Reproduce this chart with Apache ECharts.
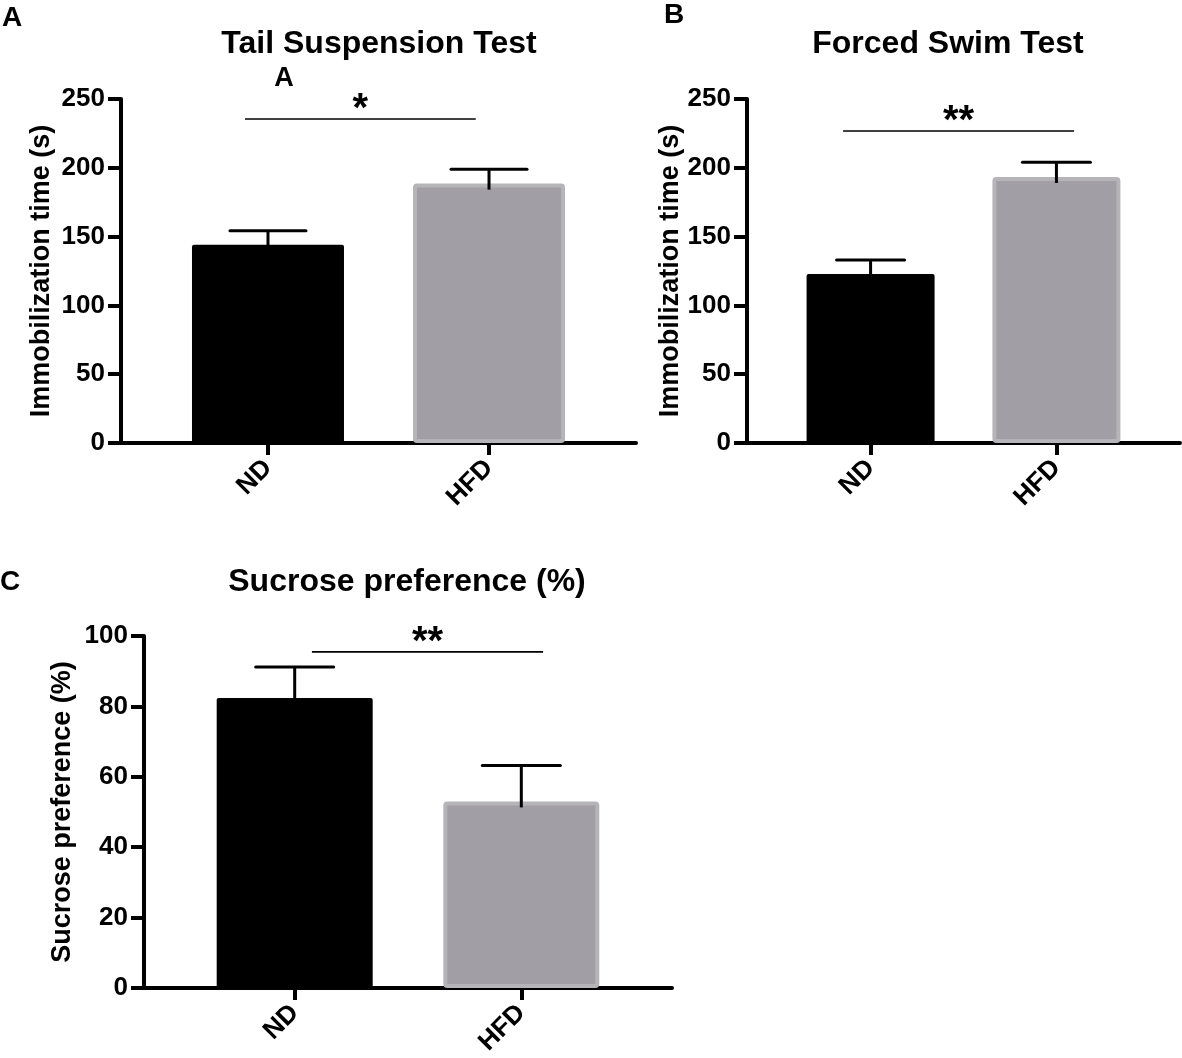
<!DOCTYPE html>
<html>
<head>
<meta charset="utf-8">
<script src="https://cdn.jsdelivr.net/npm/echarts@6/dist/echarts.min.js"></script>
<style>
  html, body { margin: 0; padding: 0; background: #fff; }
  #main { width: 1182px; height: 1058px; }
</style>
</head>
<body>
<div id="main"></div>
<script>
var categories = ['ND', 'HFD'];

// A - tail suspension, immobilization time (s)
var tailMean = [144, 188.5];
var tailSem = [10.3, 10.5];
var tailSig = [0.896, 1.94, 235.5, '*'];

// B - forced swim, immobilization time (s)
var swimMean = [122.8, 193.3];
var swimSem = [10.2, 10.7];
var swimSig = [0.852, 2.095, 226.7, '**'];

// C - sucrose preference (%)
var sucroseMean = [82.4, 53.0];
var sucroseSem = [8.8, 10.2];
var sucroseSig = [1.076, 2.096, 95.5, '**'];

var FONT = '"Liberation Sans", Arial, sans-serif';
var NDCOLOR = '#000000';
var HFDCOLOR = '#a19fa5';
var HFDBORDER = '#b5b4b8';

function xAxisOf(idx) {
    return {
        type: 'value', gridIndex: idx, min: 0.335, max: 2.665,
        splitLine: { show: false },
        axisLine: { onZero: false, lineStyle: { color: '#000', width: 4 } },
        axisTick: { show: true, customValues: [1, 2], length: 12, lineStyle: { color: '#000', width: 4 } },
        axisLabel: {
            customValues: [1, 2], rotate: 45, margin: 21,
            fontSize: 26, fontWeight: 'bold', color: '#000', fontFamily: FONT,
            formatter: function (v) { return categories[Math.round(v) - 1]; }
        }
    };
}

function yAxisOf(idx, max, interval, name, gap) {
    return {
        type: 'value', gridIndex: idx, min: 0, max: max, interval: interval,
        name: name, nameLocation: 'middle', nameGap: gap,
        nameTextStyle: { fontSize: 27, fontWeight: 'bold', color: '#000', fontFamily: FONT },
        splitLine: { show: false },
        axisLine: { show: true, onZero: false, lineStyle: { color: '#000', width: 4 } },
        axisTick: { show: true, length: 13, lineStyle: { color: '#000', width: 4 } },
        axisLabel: { margin: 16, fontSize: 26, fontWeight: 'bold', color: '#000', fontFamily: FONT }
    };
}

function barSeries(idx, means, width) {
    return {
        type: 'bar', xAxisIndex: idx, yAxisIndex: idx, barWidth: width, z: 2,
        data: means.map(function (m, i) {
            var style = i === 0
                ? { color: NDCOLOR, borderRadius: 2 }
                : { color: HFDCOLOR, borderColor: HFDBORDER, borderWidth: 4, borderRadius: 2 };
            return { value: [i + 1, m], itemStyle: style };
        })
    };
}

function errorSeries(idx, means, sems, capHalf) {
    return {
        type: 'custom', xAxisIndex: idx, yAxisIndex: idx, z: 3,
        data: means.map(function (m, i) { return [i + 1, m, sems[i]]; }),
        renderItem: function (params, api) {
            var x = api.value(0), m = api.value(1), e = api.value(2);
            var base = api.coord([x, m]);
            var top = api.coord([x, m + e]);
            return {
                type: 'group', children: [
                    { type: 'line', shape: { x1: base[0], y1: base[1] + 6, x2: top[0], y2: top[1] },
                      style: { stroke: '#000', lineWidth: 3 } },
                    { type: 'line', shape: { x1: top[0] - capHalf, y1: top[1], x2: top[0] + capHalf, y2: top[1] },
                      style: { stroke: '#000', lineWidth: 3, lineCap: 'round' } }
                ]
            };
        }
    };
}

function sigSeries(idx, sig) {
    return {
        type: 'custom', xAxisIndex: idx, yAxisIndex: idx, z: 3,
        data: [sig],
        renderItem: function (params, api) {
            var a = api.coord([api.value(0), api.value(2)]);
            var b = api.coord([api.value(1), api.value(2)]);
            return {
                type: 'group', children: [
                    { type: 'line', shape: { x1: a[0], y1: a[1], x2: b[0], y2: b[1] },
                      style: { stroke: '#000', lineWidth: 1.6 } },
                    { type: 'text', x: (a[0] + b[0]) / 2, y: a[1] - 9,
                      style: { text: sig[3], fontSize: 40, fontWeight: 'bold', fontFamily: FONT,
                               fill: '#000', align: 'center', verticalAlign: 'middle' } }
                ]
            };
        }
    };
}

function label(text, x, y, size) {
    return {
        type: 'text', x: x, y: y,
        style: { text: text, fontSize: size, fontWeight: 'bold', fontFamily: FONT,
                 fill: '#000', align: 'center', verticalAlign: 'middle' }
    };
}

var myChart = echarts.init(document.getElementById('main'));

option = {
    backgroundColor: '#fff',
    animation: false,
    grid: [
        { left: 121, top: 99, width: 515, height: 344 },
        { left: 747, top: 99, width: 433, height: 344 },
        { left: 144, top: 636, width: 528, height: 353 }
    ],
    xAxis: [xAxisOf(0), xAxisOf(1), xAxisOf(2)],
    yAxis: [
        yAxisOf(0, 250, 50, 'Immobilization time (s)', 66),
        yAxisOf(1, 250, 50, 'Immobilization time (s)', 56),
        yAxisOf(2, 100, 20, 'Sucrose preference (%)', 68)
    ],
    graphic: [
        label('A', 12, 18, 28),
        label('B', 674, 15, 28),
        label('C', 10, 582, 28),
        label('Tail Suspension Test', 379, 44, 32),
        label('Forced Swim Test', 948, 44, 32),
        label('Sucrose preference (%)', 407, 582, 32),
        label('A', 284, 79, 27)
    ],
    series: [
        barSeries(0, tailMean, 152),
        errorSeries(0, tailMean, tailSem, 38),
        sigSeries(0, tailSig),
        barSeries(1, swimMean, 128),
        errorSeries(1, swimMean, swimSem, 34),
        sigSeries(1, swimSig),
        barSeries(2, sucroseMean, 156),
        errorSeries(2, sucroseMean, sucroseSem, 39),
        sigSeries(2, sucroseSig)
    ]
};

myChart.setOption(option);
</script>
</body>
</html>
